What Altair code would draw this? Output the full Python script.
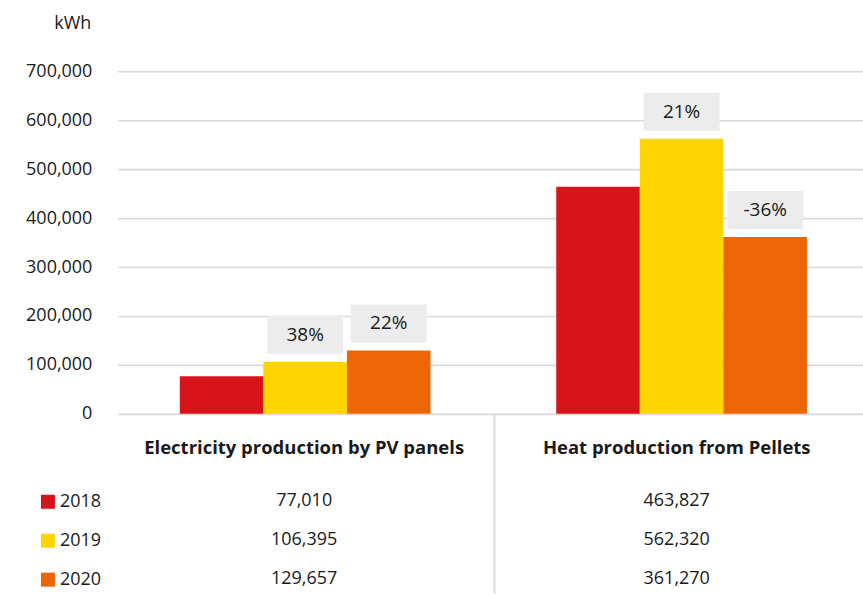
import altair as alt
import pandas as pd

categories = ["Electricity production by PV panels", "Heat production from Pellets"]
years = ["2018", "2019", "2020"]
pv_values = [77010, 106395, 129657]
pellet_values = [463827, 562320, 361270]
pv_labels = ["", "38%", "22%"]
pellet_labels = ["", "21%", "-36%"]
colors = ["#d7141a", "#ffd500", "#ec6608"]
y_ticks = [0, 100000, 200000, 300000, 400000, 500000, 600000, 700000]

rows = []
for cat, vals, labs in [(categories[0], pv_values, pv_labels),
                        (categories[1], pellet_values, pellet_labels)]:
    for yr, v, l in zip(years, vals, labs):
        rows.append({"category": cat, "year": yr, "value": v, "label": l})
df = pd.DataFrame(rows)

FONT = "Open Sans"
TXT = "#1a1a1a"
GRID = "#d9d9d9"
W = 746

xscale = alt.Scale(domain=categories, paddingInner=0.334, paddingOuter=0.1567, align=0.525)
x_top = alt.X("category:N", scale=xscale, axis=None)
xoff = alt.XOffset("year:N", scale=alt.Scale(domain=years))
y_top = alt.Y("value:Q", scale=alt.Scale(domain=[0, 700000]),
              axis=alt.Axis(title="kWh", titleAngle=0, titleAlign="right", titleX=-27,
                            titleY=-43, titleBaseline="alphabetic", titleFont=FONT,
                            titleFontSize=18, titleFontWeight="normal", titleColor=TXT,
                            values=y_ticks, labelExpr="format(datum.value, ',')",
                            labelFont=FONT, labelFontSize=18,
                            labelColor=TXT, labelPadding=26, ticks=False, domain=False,
                            gridColor=GRID, gridWidth=1.6))
color = alt.Color("year:N", scale=alt.Scale(domain=years, range=colors),
                  legend=alt.Legend(title=None, orient="none", legendX=-79, legendY=422,
                                    symbolType="square", symbolSize=196, symbolStrokeWidth=0,
                                    labelFont=FONT, labelFontSize=18, labelColor=TXT,
                                    rowPadding=21, labelOffset=3))

base = alt.Chart(df)
bars = base.mark_bar().encode(x=x_top, xOffset=xoff, y=y_top, color=color)
lab = base.transform_filter("datum.label != ''")
boxes = lab.mark_bar(width=76, yOffset=-8, y2Offset=-46, color="#ececec").encode(
    x=x_top, xOffset=xoff, y=y_top, y2="value:Q")
texts = lab.mark_text(dy=-27, fontSize=19, font=FONT, color=TXT, baseline="middle").encode(
    x=x_top, xOffset=xoff, y=y_top, text="label:N")
top = alt.layer(bars, boxes, texts).properties(width=W, height=343)

tx_axis = alt.Axis(orient="top", title=None, offset=-34, labelBaseline="middle",
                   labelPadding=0, ticks=False, domain=False, labelAngle=0,
                   labelFont=FONT, labelFontSize=18.5, labelFontWeight="bold",
                   labelColor=TXT, labelLimit=400, minExtent=0, maxExtent=0)
tscale = alt.Scale(type="band", domain=categories, paddingInner=0, paddingOuter=0)
sep = alt.Chart(pd.DataFrame({"category": [categories[1]]})).mark_rule(
    color=GRID, strokeWidth=2, xOffset=4).encode(
    x=alt.X("category:N", scale=tscale, axis=tx_axis, bandPosition=0))
vals = base.mark_text(fontSize=18, font=FONT, color=TXT, baseline="middle").encode(
    x=alt.X("category:N", scale=tscale, axis=tx_axis, bandPosition=0.5),
    y=alt.Y("year:N", scale=alt.Scale(type="point", domain=years, range=[87, 165], padding=0),
            axis=None),
    text=alt.Text("value:Q", format=","))
table = alt.layer(sep, vals).properties(width=W, height=180)

chart = alt.vconcat(top, table, spacing=0, bounds="flush").properties(
    padding={"left": 25, "top": 14, "right": 0, "bottom": 0},
    background="white").configure_view(stroke=None)

chart.save("out.html", embed_options={"renderer": "svg", "actions": False})
